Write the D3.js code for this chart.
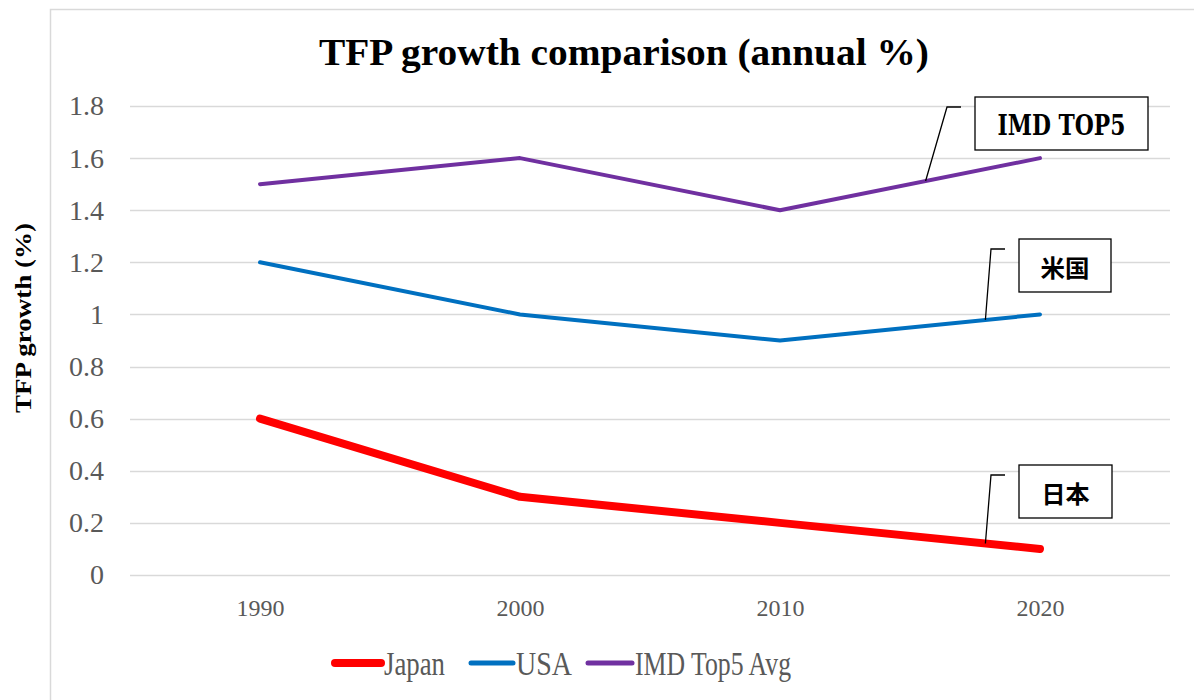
<!DOCTYPE html>
<html>
<head>
<meta charset="utf-8">
<script src="https://cdn.jsdelivr.net/npm/d3@7"></script>
<style>
  body { margin: 0; background: #fff; }
</style>
</head>
<body>
<div id="chart"></div>
<script>
// Data
var years = ["1990", "2000", "2010", "2020"];
var japan = [0.6, 0.3, 0.2, 0.1];
var usa = [1.2, 1.0, 0.9, 1.0];
var imdTop5 = [1.5, 1.6, 1.4, 1.6];
var yTicks = [0, 0.2, 0.4, 0.6, 0.8, 1, 1.2, 1.4, 1.6, 1.8];

var seriesNames = ["Japan", "USA", "IMD Top5 Avg"];
var seriesValues = [japan, usa, imdTop5];
var seriesColors = ["#ff0000", "#0070c0", "#7030a0"];
var seriesWidths = [8, 4, 4];

// Callout labels: text, and where on the series the leader line starts
var callouts = [
  {text: "IMD TOP5", series: 2, from: 2, t: 0.56, box: [975, 97, 173, 53], size: 27, len: 128},
  {text: "米国", series: 1, from: 2, t: 0.79, box: [1019, 239, 92, 53], size: 24, len: 49},
  {text: "日本", series: 0, from: 2, t: 0.79, box: [1019, 465, 93, 53], size: 24, len: 48}
];

var width = 1194, height = 700;
var plot = {left: 130, right: 1170, top: 106, bottom: 575};

var svg = d3.select("#chart").append("svg")
    .attr("width", width)
    .attr("height", height);

// Chart frame
svg.append("rect")
    .attr("x", 50.5).attr("y", 9.5)
    .attr("width", 1200).attr("height", 800)
    .attr("fill", "#fff")
    .attr("stroke", "#d9d9d9")
    .attr("stroke-width", 1.5);

var x = d3.scalePoint()
    .domain(years)
    .range([plot.left, plot.right])
    .padding(0.5);

var y = d3.scaleLinear()
    .domain([0, 1.8])
    .range([plot.bottom, plot.top]);

// Gridlines
svg.append("g")
    .selectAll("line")
    .data(yTicks)
    .enter().append("line")
        .attr("x1", plot.left).attr("x2", plot.right)
        .attr("y1", function(d){ return Math.round(y(d)) + 0.5; })
        .attr("y2", function(d){ return Math.round(y(d)) + 0.5; })
        .attr("stroke", "#d9d9d9")
        .attr("stroke-width", 1.5);

// Y axis labels
var yAxis = d3.axisLeft(y).tickValues(yTicks).tickSize(0).tickPadding(0)
    .tickFormat(function(d){ return String(+d.toFixed(1)); });
var gy = svg.append("g")
    .attr("transform", "translate(104,0)")
    .call(yAxis);
gy.select(".domain").remove();
gy.selectAll("text")
    .attr("font-family", "Liberation Serif, serif")
    .attr("font-size", "28px")
    .attr("fill", "#595959");

// X axis labels
var xAxis = d3.axisBottom(x).tickSize(0).tickPadding(0);
var gx = svg.append("g")
    .attr("transform", "translate(0,599)")
    .call(xAxis);
gx.select(".domain").remove();
gx.selectAll("text")
    .attr("font-family", "Liberation Serif, serif")
    .attr("font-size", "24px")
    .attr("fill", "#595959");

// Title
svg.append("text")
    .attr("x", 624)
    .attr("y", 65)
    .attr("text-anchor", "middle")
    .attr("font-family", "Liberation Serif, serif")
    .attr("font-weight", "bold")
    .attr("font-size", "37px")
    .attr("textLength", 610)
    .attr("lengthAdjust", "spacingAndGlyphs")
    .attr("fill", "#000")
    .text("TFP growth comparison (annual %)");

// Y axis title
svg.append("text")
    .attr("transform", "translate(31,318) rotate(-90)")
    .attr("text-anchor", "middle")
    .attr("font-family", "Liberation Serif, serif")
    .attr("font-weight", "bold")
    .attr("font-size", "24px")
    .attr("textLength", 190)
    .attr("lengthAdjust", "spacingAndGlyphs")
    .attr("fill", "#000")
    .text("TFP growth (%)");

// Lines
var line = d3.line()
    .x(function(d, i){ return x(years[i]); })
    .y(function(d){ return y(d); });

seriesValues.forEach(function(vals, s){
    svg.append("path")
        .datum(vals)
        .attr("d", line)
        .attr("fill", "none")
        .attr("stroke", seriesColors[s])
        .attr("stroke-width", seriesWidths[s])
        .attr("stroke-linecap", "round")
        .attr("stroke-linejoin", "round");
});

// Callouts
callouts.forEach(function(c){
    var vals = seriesValues[c.series];
    var x0 = x(years[c.from]), x1 = x(years[c.from + 1]);
    var ax = x0 + (x1 - x0) * c.t;
    var ay = y(vals[c.from] + (vals[c.from + 1] - vals[c.from]) * c.t);
    var bx = c.box[0], by = c.box[1], bw = c.box[2], bh = c.box[3];
    var ky = by + 10;
    svg.append("polyline")
        .attr("points", [[ax, ay], [bx - 28, ky], [bx - 14, ky]].map(function(p){ return p.join(","); }).join(" "))
        .attr("fill", "none")
        .attr("stroke", "#000")
        .attr("stroke-width", 1.3);
    svg.append("rect")
        .attr("x", bx).attr("y", by)
        .attr("width", bw).attr("height", bh)
        .attr("fill", "#fff")
        .attr("stroke", "#000")
        .attr("stroke-width", 1.3);
    svg.append("text")
        .attr("x", bx + bw / 2)
        .attr("y", by + bh / 2 + 11)
        .attr("text-anchor", "middle")
        .attr("font-family", "DejaVu Serif, 'Noto Sans CJK JP', serif")
        .attr("font-weight", "bold")
        .attr("font-size", c.size + "px")
        .attr("textLength", c.len)
        .attr("lengthAdjust", "spacingAndGlyphs")
        .attr("fill", "#000")
        .text(c.text);
});

// Legend
var legendItems = [
  {x: 335, lw: 46, tw: 61},
  {x: 471, lw: 42, tw: 56},
  {x: 588, lw: 44, tw: 156}
];
seriesNames.forEach(function(name, i){
    var g = svg.append("g").attr("transform", "translate(" + legendItems[i].x + ",663)");
    g.append("line")
        .attr("x1", 0).attr("x2", legendItems[i].lw)
        .attr("y1", 0).attr("y2", 0)
        .attr("stroke", seriesColors[i])
        .attr("stroke-width", seriesWidths[i] + (i === 0 ? 0 : 1))
        .attr("stroke-linecap", "round");
    g.append("text")
        .attr("x", legendItems[i].lw + 3)
        .attr("y", 12)
        .attr("font-family", "Liberation Serif, serif")
        .attr("font-size", "33px")
        .attr("textLength", legendItems[i].tw)
        .attr("lengthAdjust", "spacingAndGlyphs")
        .attr("fill", "#595959")
        .text(name);
});
</script>
</body>
</html>
